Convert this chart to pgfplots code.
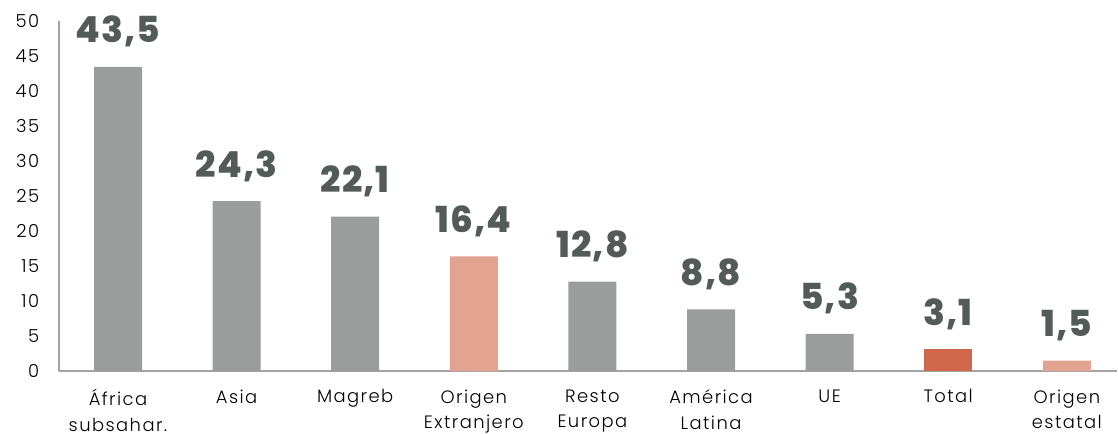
\documentclass[border=0pt]{standalone}
\usepackage{pgfplots}
\pgfplotsset{compat=1.18}
\usepackage{fontspec}
\setmainfont{Poppins}
\newfontfamily\tickfont{Poppins Light}[LetterSpace=8]
\newfontfamily\labfont{Poppins ExtraBold}[LetterSpace=3]
\definecolor{bargrey}{HTML}{9A9D9B}
\definecolor{barsalmon}{HTML}{E2A390}
\definecolor{barred}{HTML}{D0664A}
\definecolor{labcol}{HTML}{535B59}
\definecolor{axiscol}{HTML}{A3A3A3}
\begin{document}
\begin{tikzpicture}
\begin{axis}[
  at={(58.7bp,63bp)}, anchor=south west,
  scale only axis, width=1058bp, height=349.5bp,
  xmin=-0.5, xmax=8.42, ymin=0, ymax=50,
  axis x line*=bottom, axis y line*=left,
  axis line style={draw=axiscol, line width=1.6bp, -},
  major tick length=0pt,
  ytick={0,5,...,50},
  xtick={0,...,8},
  xticklabels={{África\\subsahar.},Asia,Magreb,{Origen\\Extranjero},{Resto\\Europa},{América\\Latina},UE,Total,{Origen\\estatal}},
  /pgf/number format/assume math mode=true,
  ticklabel style={font=\tickfont\fontsize{18}{26}\selectfont, text=black},
  yticklabel style={xshift=-16bp},
  xticklabel style={align=center, yshift=-15bp},
  ybar, bar width=48bp, bar shift=0pt,
  nodes near coords={\pgfmathprintnumber[fixed,fixed zerofill,precision=1,use comma]{\pgfplotspointmeta}},
  every node near coord/.append style={font=\labfont\fontsize{36}{40}\selectfont, text=labcol, anchor=south, yshift=16bp},
  clip=false,
]
\addplot[fill=bargrey, draw=none] coordinates {(0,43.5) (1,24.3) (2,22.1) (4,12.8) (5,8.8) (6,5.3)};
\addplot[fill=barsalmon, draw=none] coordinates {(3,16.4) (8,1.5)};
\addplot[fill=barred, draw=none] coordinates {(7,3.1)};
\end{axis}
\pgfresetboundingbox
\path[use as bounding box] (0,0) rectangle (1118bp,434bp);
\end{tikzpicture}
\end{document}
